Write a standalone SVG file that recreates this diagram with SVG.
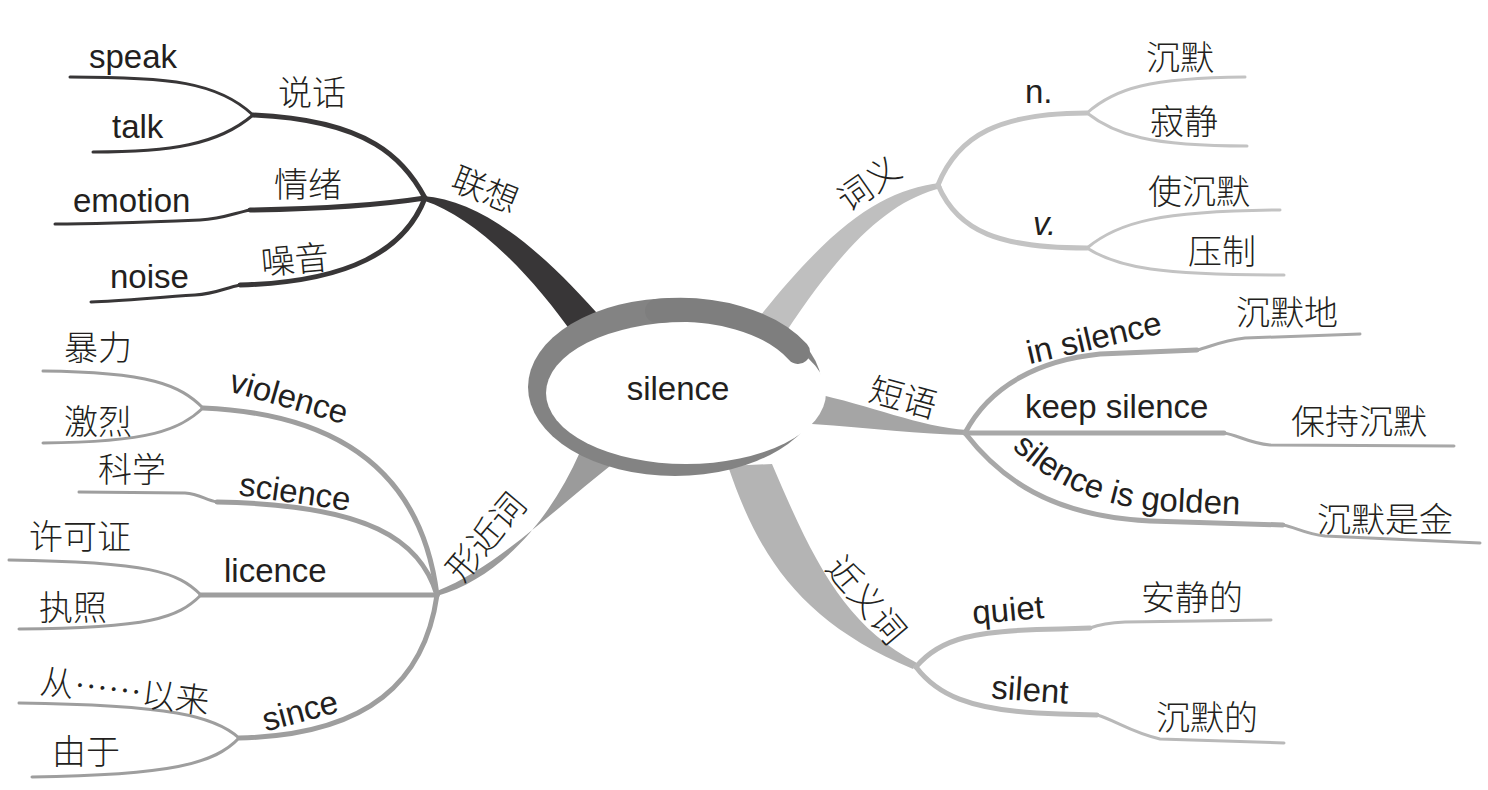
<svg xmlns="http://www.w3.org/2000/svg" width="1488" height="790" viewBox="0 0 1488 790">
<style>
.en{font-family:"Liberation Sans",Arial,sans-serif;font-size:33px;fill:#231f20}
.zh{font-family:"Noto Sans CJK SC","Noto Sans CJK JP",sans-serif;font-size:34px;font-weight:300;fill:#231f20}
.l1{fill:none;stroke-width:5;stroke-linecap:round}
.l2{fill:none;stroke-width:3;stroke-linecap:round}
.dk{stroke:#383637}
.g1{stroke:#c3c3c3}
.g2{stroke:#a8a8a8}
.g3{stroke:#b9b9b9}
.g4{stroke:#9e9e9e}
</style>
<rect width="1488" height="790" fill="#fff"/>
<g id="connectors">
<!-- thick main branches -->
<path fill="#383637" d="M423,196 C482,200 542,250 605,322 L577,340 C525,265 470,216 425,201 Z"/>
<path fill="#bfbfbf" d="M940,183 C885,190 835,220 753,325 L786,332 C840,250 888,200 942,188 Z"/>
<path fill="#a5a5a5" d="M812,393 C870,405 920,427 967,430 L967,435 C920,434 870,428 812,424 Z"/>
<path fill="#b4b4b4" d="M728,466 C758,555 800,622 913,669 L917,663 C845,625 815,565 772,464 Z"/>
<path fill="#9b9b9b" d="M580,452 C550,520 500,578 437,596 L437,591 C495,568 548,515 615,462 Z"/>
<!-- 联想 -->
<path class="l1 dk" d="M425,198 C405,160 370,120 253,115"/>
<path class="l2 dk" d="M253,115 C218,82 170,77 70,77"/>
<path class="l2 dk" d="M253,115 C218,145 170,152 93,152"/>
<path class="l1 dk" d="M425,198 C380,205 320,209 250,210"/>
<path class="l2 dk" d="M250,210 C235,213 222,219 200,220 C150,222 100,224 55,224"/>
<path class="l1 dk" d="M425,198 C405,250 350,282 240,285"/>
<path class="l2 dk" d="M240,285 C225,288 215,294 195,295 C150,298 120,301 91,302"/>
<!-- 词义 -->
<path class="l1 g1" d="M938,185 C958,135 1000,113 1087,113"/>
<path class="l2 g1" d="M1087,113 C1115,88 1150,78 1245,77"/>
<path class="l2 g1" d="M1087,113 C1115,135 1150,146 1247,146"/>
<path class="l1 g1" d="M938,185 C958,232 1000,248 1087,248"/>
<path class="l2 g1" d="M1087,248 C1118,222 1160,211 1280,210"/>
<path class="l2 g1" d="M1087,248 C1118,268 1160,275 1284,275"/>
<!-- 短语 -->
<path class="l1 g2" d="M965,433 C990,385 1040,360 1100,354 L1197,350"/>
<path class="l2 g2" d="M1197,350 C1210,347 1220,341 1245,338 L1360,334"/>
<path class="l1 g2" d="M965,433 L1224,433"/>
<path class="l2 g2" d="M1224,433 C1238,435 1248,443 1270,445 L1454,446"/>
<path class="l1 g2" d="M965,433 C1000,478 1050,516 1150,521 L1283,525"/>
<path class="l2 g2" d="M1283,525 C1295,527 1305,534 1325,536 L1480,543"/>
<!-- 近义词 -->
<path class="l1 g3" d="M916,667 C940,638 975,630 1060,629 L1090,628"/>
<path class="l2 g3" d="M1090,628 C1098,625 1105,623 1125,622 L1271,620"/>
<path class="l1 g3" d="M916,667 C935,692 965,712 1060,714 L1097,715"/>
<path class="l2 g3" d="M1097,715 C1115,720 1130,732 1160,739 L1284,743"/>
<!-- 形近词 -->
<path class="l1 g4" d="M437,595 C425,500 370,415 203,408"/>
<path class="l2 g4" d="M203,408 C180,385 150,372 43,371"/>
<path class="l2 g4" d="M203,408 C180,430 150,442 43,443"/>
<path class="l1 g4" d="M437,595 C420,540 370,505 217,502"/>
<path class="l2 g4" d="M217,502 C205,500 200,494 185,493 L79,492"/>
<path class="l1 g4" d="M437,595 L201,595"/>
<path class="l2 g4" d="M201,595 C178,572 150,562 9,560"/>
<path class="l2 g4" d="M201,595 C178,618 150,628 19,629"/>
<path class="l1 g4" d="M437,595 C425,680 370,735 239,738"/>
<path class="l2 g4" d="M239,738 C215,716 170,705 19,703"/>
<path class="l2 g4" d="M239,738 C215,764 170,775 32,777"/>
</g>
<g id="center">
<ellipse cx="675" cy="387" rx="147" ry="89" fill="#838383"/>
<ellipse cx="686" cy="393" rx="140" ry="71" fill="#fff"/>
<path d="M657,311 A134,80 0 0 1 798,352" fill="none" stroke="#7e7e7e" stroke-width="24" stroke-linecap="round"/>
<text class="en" x="678" y="400" text-anchor="middle">silence</text>
</g>
<g id="n-lianxiang"><text class="zh" transform="translate(485,190) rotate(22)" y="12" text-anchor="middle">联想</text></g>
<g id="n-shuohua"><text class="zh" x="278" y="105">说话</text></g>
<g id="n-speak"><text class="en" x="89" y="68">speak</text></g>
<g id="n-talk"><text class="en" x="112" y="138">talk</text></g>
<g id="n-qingxu"><text class="zh" x="274" y="197">情绪</text></g>
<g id="n-emotion"><text class="en" x="73" y="212">emotion</text></g>
<g id="n-zaoyin"><text class="zh" transform="translate(262,275) rotate(-5)">噪音</text></g>
<g id="n-noise"><text class="en" x="110" y="288">noise</text></g>
<g id="n-ciyi"><text class="zh" transform="translate(869,184) rotate(-35)" y="12" text-anchor="middle">词义</text></g>
<g id="n-n"><text class="en" x="1025" y="103">n.</text></g>
<g id="n-chenmo1"><text class="zh" x="1146" y="70">沉默</text></g>
<g id="n-jijing"><text class="zh" x="1150" y="134">寂静</text></g>
<g id="n-v"><text class="en" x="1033" y="235" font-style="italic">v.</text></g>
<g id="n-shichenmo"><text class="zh" x="1148" y="204">使沉默</text></g>
<g id="n-yazhi"><text class="zh" x="1188" y="264">压制</text></g>
<g id="n-duanyu"><text class="zh" transform="translate(903,398) rotate(15)" y="12" text-anchor="middle">短语</text></g>
<g id="n-insilence"><text class="en" transform="translate(1094,338) rotate(-13)" y="11" text-anchor="middle">in silence</text></g>
<g id="n-chenmodi"><text class="zh" x="1236" y="325">沉默地</text></g>
<g id="n-keepsilence"><text class="en" x="1025" y="418">keep silence</text></g>
<g id="n-baochi"><text class="zh" x="1291" y="434">保持沉默</text></g>
<g id="n-golden">
<path id="gp" d="M1012,448 C1045,480 1090,505 1160,511 L1270,516" fill="none"/>
<text class="en"><textPath href="#gp">silence is golden</textPath></text>
</g>
<g id="n-chenmoshijin"><text class="zh" x="1317" y="532">沉默是金</text></g>
<g id="n-jinyici"><text class="zh" transform="translate(866,600) rotate(50)" y="12" text-anchor="middle">近义词</text></g>
<g id="n-quiet"><text class="en" transform="translate(1008,610) rotate(-5)" y="11" text-anchor="middle">quiet</text></g>
<g id="n-anjing"><text class="zh" x="1141" y="610">安静的</text></g>
<g id="n-silent"><text class="en" transform="translate(1030,690) rotate(4)" y="11" text-anchor="middle">silent</text></g>
<g id="n-chenmode"><text class="zh" x="1156" y="730">沉默的</text></g>
<g id="n-xingjinci"><text class="zh" transform="translate(486,537) rotate(-50)" y="12" text-anchor="middle">形近词</text></g>
<g id="n-violence"><text class="en" transform="translate(289,397) rotate(16)" y="11" text-anchor="middle">violence</text></g>
<g id="n-baoli"><text class="zh" x="64" y="360">暴力</text></g>
<g id="n-jilie"><text class="zh" x="64" y="434">激烈</text></g>
<g id="n-science"><text class="en" transform="translate(295,492) rotate(8)" y="11" text-anchor="middle">science</text></g>
<g id="n-kexue"><text class="zh" x="98" y="482">科学</text></g>
<g id="n-licence"><text class="en" x="224" y="582">licence</text></g>
<g id="n-xukezheng"><text class="zh" x="29" y="549">许可证</text></g>
<g id="n-zhizhao"><text class="zh" x="39" y="620">执照</text></g>
<g id="n-since"><text class="en" transform="translate(300,711) rotate(-15)" y="11" text-anchor="middle">since</text></g>
<g id="n-cong"><text class="zh" transform="translate(39,693) rotate(7)">从……以来</text></g>
<g id="n-youyu"><text class="zh" x="52" y="764">由于</text></g>
</svg>
